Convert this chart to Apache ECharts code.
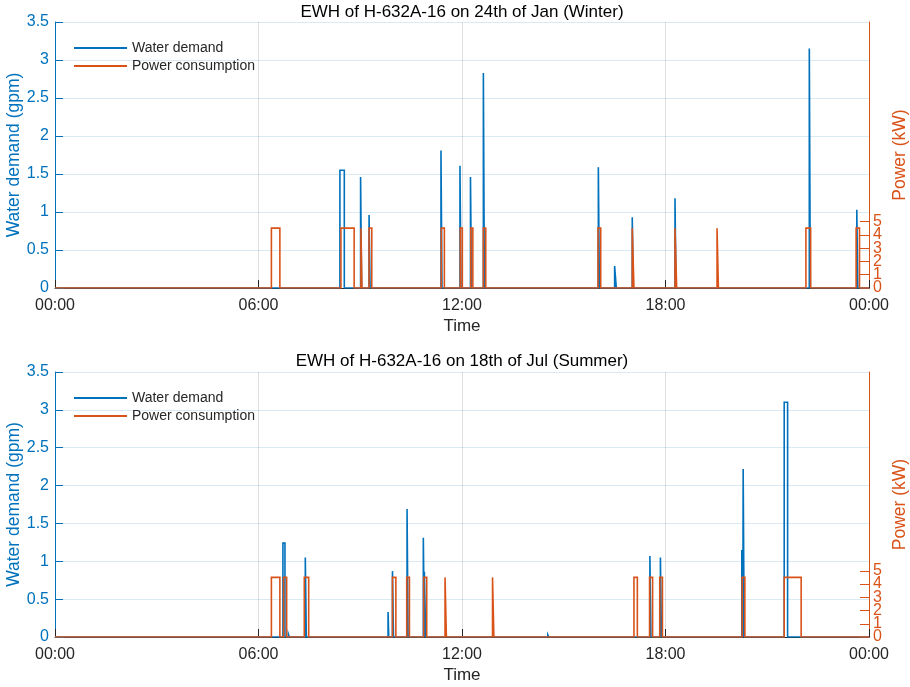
<!DOCTYPE html>
<html><head><meta charset="utf-8">
<script src="https://cdn.jsdelivr.net/npm/echarts@6/dist/echarts.min.js"></script>
<style>html,body{margin:0;padding:0;background:#fff}#c{width:910px;height:687px}</style>
</head><body><div id="c"></div>
<script>
// Winter (24th of Jan)
const winterWaterStart = [8.40, 9.01, 9.26, 11.38, 11.94, 12.25, 12.63, 16.02, 16.50, 17.02, 18.28, 22.24, 23.64];
const winterWaterEnd   = [8.53, 9.04, 9.29, 11.41, 11.97, 12.28, 12.66, 16.05, 16.55, 17.05, 18.31, 22.27, 23.67];
const winterWaterVal   = [1.55, 1.46, 0.96, 1.81, 1.61, 1.46, 2.83, 1.59, 0.29, 0.93, 1.18, 3.15, 1.03];
const winterPowerStart = [6.38, 8.43, 9.02, 9.26, 11.39, 11.95, 12.26, 12.63, 16.01, 17.02, 18.28, 19.52, 22.14, 23.62];
const winterPowerEnd   = [6.63, 8.82, 9.05, 9.34, 11.48, 12.01, 12.32, 12.70, 16.09, 17.07, 18.33, 19.56, 22.28, 23.72];
const winterPowerVal   = [4.5, 4.5, 4.5, 4.5, 4.5, 4.5, 4.5, 4.5, 4.5, 4.5, 4.5, 4.5, 4.5, 4.5];
// Summer (18th of Jul)
const summerWaterStart = [6.72, 6.88, 7.38, 9.82, 9.95, 10.38, 10.86, 10.89, 14.53, 17.54, 17.85, 20.25, 20.29, 21.50];
const summerWaterEnd   = [6.78, 6.91, 7.41, 9.84, 9.98, 10.41, 10.89, 10.93, 14.56, 17.57, 17.88, 20.28, 20.32, 21.60];
const summerWaterVal   = [1.24, 0.04, 1.05, 0.33, 0.87, 1.69, 1.31, 0.86, 0.03, 1.07, 1.05, 1.15, 2.22, 3.10];
const summerPowerStart = [6.38, 6.74, 7.35, 9.95, 10.37, 10.87, 11.50, 12.90, 17.07, 17.53, 17.83, 20.26, 21.50];
const summerPowerEnd   = [6.63, 6.83, 7.48, 10.05, 10.45, 10.96, 11.54, 12.94, 17.17, 17.62, 17.91, 20.34, 22.00];
const summerPowerVal   = [4.5, 4.5, 4.5, 4.5, 4.5, 4.5, 4.5, 4.5, 4.5, 4.5, 4.5, 4.5, 4.5];

const titles = ['EWH of H-632A-16 on 24th of Jan (Winter)', 'EWH of H-632A-16 on 18th of Jul (Summer)'];
const POWER_AXIS_MAX = 20;              // right axis spans 0..20 kW
const powerTickSetsMin = [0, 1];        // ticks 0,2,4 and 1,3,5
const powerTickSetsMax = [4, 5];

function pulses(starts, ends, vals) {
  const d = [[0, 0]];
  for (let i = 0; i < starts.length; i++) {
    d.push([starts[i], 0], [starts[i], vals[i]], [ends[i], vals[i]], [ends[i], 0]);
  }
  d.push([24, 0]);
  return d;
}

const BLUE = '#0072BD', ORANGE = '#D95319', DARK = '#262626';
const FONT = 'Liberation Sans, Arial, sans-serif';
const plotBoxes = [{top: 22, height: 266}, {top: 372, height: 265}];
const grids = [];
plotBoxes.forEach(b => grids.push({left: 55, right: 41, top: b.top, height: b.height, outerBoundsMode: 'none', containLabel: false}));
// helper grids carrying only the labelled 0..5 kW part of the right axis (two interleaved tick sets)
const helper = [];
plotBoxes.forEach(b => {
  const unit = b.height / POWER_AXIS_MAX;
  powerTickSetsMin.forEach((mn, k) => {
    const mx = powerTickSetsMax[k];
    grids.push({left: 55, right: 41, top: b.top + b.height - mx * unit, height: (mx - mn) * unit,
                outerBoundsMode: 'none', containLabel: false});
    helper.push({gridIndex: grids.length - 1, min: mn, max: mx});
  });
});

function fmtTime(v) { const h = v % 24; return (h < 10 ? '0' : '') + h + ':00'; }

const xAxis = [0, 1].map(i => ({
  type: 'value', gridIndex: i, min: 0, max: 24, interval: 6,
  name: 'Time', nameLocation: 'middle', nameGap: 30, nameMoveOverlap: false,
  nameTextStyle: {color: DARK, fontSize: 17, fontFamily: FONT},
  axisLine: {show: true, onZero: false, lineStyle: {color: DARK, width: 1}},
  axisTick: {show: true, inside: true, length: 8, lineStyle: {color: DARK}},
  axisLabel: {color: DARK, fontSize: 16, fontFamily: FONT, margin: 10, formatter: fmtTime, showMinLabel: true, showMaxLabel: true},
  splitLine: {show: true, lineStyle: {color: 'rgba(38,38,38,0.15)', width: 1}}
}));
helper.forEach(h => xAxis.push({type: 'value', gridIndex: h.gridIndex, min: 0, max: 24, show: false}));

const yAxis = [];
[0, 1].forEach(i => {
  yAxis.push({
    type: 'value', gridIndex: i, position: 'left', min: 0, max: 3.5, interval: 0.5,
    name: 'Water demand (gpm)', nameLocation: 'middle', nameGap: 32, nameRotate: 90, nameMoveOverlap: false,
    nameTextStyle: {color: BLUE, fontSize: 17.5, fontFamily: FONT},
    axisLine: {show: true, onZero: false, lineStyle: {color: BLUE, width: 1}},
    axisTick: {show: true, inside: true, length: 8, lineStyle: {color: BLUE}},
    axisLabel: {color: BLUE, fontSize: 16, fontFamily: FONT, margin: 6, showMinLabel: true, showMaxLabel: true},
    splitLine: {show: true, lineStyle: {color: 'rgba(0,114,189,0.15)', width: 1}}
  });
  yAxis.push({
    type: 'value', gridIndex: i, position: 'right', min: 0, max: POWER_AXIS_MAX, interval: 1,
    name: 'Power (kW)', nameLocation: 'middle', nameGap: 22, nameRotate: 90, nameMoveOverlap: false,
    nameTextStyle: {color: ORANGE, fontSize: 17.5, fontFamily: FONT},
    axisLine: {show: true, onZero: false, lineStyle: {color: ORANGE, width: 1}},
    axisTick: {show: false}, axisLabel: {show: false}, splitLine: {show: false}
  });
});
helper.forEach(h => yAxis.push({
  type: 'value', gridIndex: h.gridIndex, position: 'right', min: h.min, max: h.max, interval: 2,
  axisLine: {show: true, onZero: false, lineStyle: {color: ORANGE, width: 1}},
  axisTick: {show: true, inside: true, length: 9, lineStyle: {color: ORANGE}},
  axisLabel: {color: ORANGE, fontSize: 16, fontFamily: FONT, margin: 4, showMinLabel: true, showMaxLabel: true},
  splitLine: {show: false}
}));

const lineBase = {type: 'line', showSymbol: false, symbol: 'none', sampling: 'none', animation: false, clip: true};
function mk(name, xi, yi, data, color) {
  return Object.assign({}, lineBase, {name, xAxisIndex: xi, yAxisIndex: yi, data,
    lineStyle: {color, width: 1.6, join: 'miter', miterLimit: 10}, itemStyle: {color}});
}
const series = [
  mk('Water demand', 0, 0, pulses(winterWaterStart, winterWaterEnd, winterWaterVal), BLUE),
  mk('Power consumption', 0, 1, pulses(winterPowerStart, winterPowerEnd, winterPowerVal), ORANGE),
  mk('Water demand', 1, 2, pulses(summerWaterStart, summerWaterEnd, summerWaterVal), BLUE),
  mk('Power consumption', 1, 3, pulses(summerPowerStart, summerPowerEnd, summerPowerVal), ORANGE)
];

const legend = plotBoxes.map((b, i) => ({
  left: 74, top: b.top + 19, padding: 0, orient: 'vertical', itemGap: 4, itemWidth: 53, itemHeight: 2,
  icon: 'rect', selectedMode: false,
  textStyle: {color: DARK, fontSize: 14, fontFamily: FONT},
  data: ['Water demand', 'Power consumption']
}));

const title = titles.map((t, i) => ({
  text: t, left: 462, textAlign: 'center', top: i === 0 ? 4 : 353, padding: 0,
  textStyle: {color: '#000', fontSize: 17, fontWeight: 'normal', fontFamily: FONT}
}));

const chart = echarts.init(document.getElementById('c'), null, {renderer: 'canvas'});
chart.setOption({animation: false, backgroundColor: '#fff', title, legend, grid: grids, xAxis, yAxis, series});
</script></body></html>
